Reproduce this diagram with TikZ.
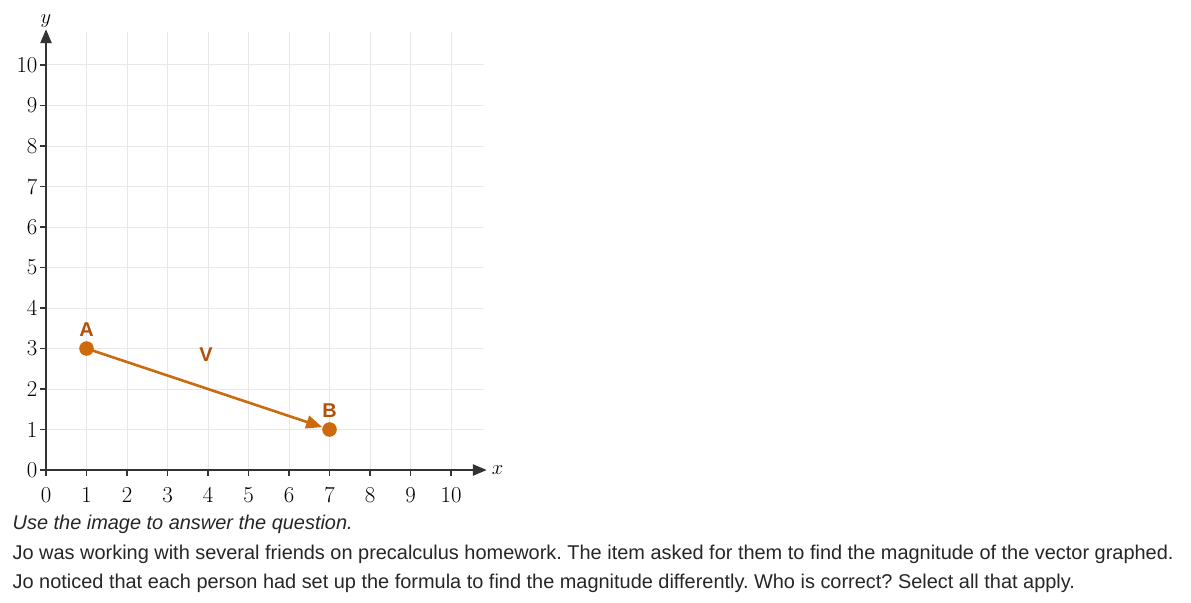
\documentclass[tikz,border=0pt]{standalone}
\usepackage{fontspec}
\newfontfamily\arialfont{Liberation Sans}
\usetikzlibrary{%
    arrows.meta,
    positioning
}
\frenchspacing
\definecolor{vecline}{HTML}{CF6A0C}
\definecolor{veclabel}{HTML}{B0500A}
\definecolor{gridgray}{HTML}{E8E8E8}
\tikzset{gridline/.style = {gridgray, line width=0.7pt}}
\tikzset{axisline/.style = {black!80, line width=0.9pt, -{Triangle[length=0.34cm, width=0.28cm]}}}
\tikzset{tickline/.style = {black!80, line width=0.8pt}}
\tikzset{ticklabel/.style = {font=\fontsize{16}{16}\selectfont, inner sep=1pt}}
\tikzset{pointdot/.style = {circle, fill=vecline, inner sep=0pt, minimum size=0.36cm}}
\tikzset{vecarrow/.style = {vecline, line width=1.8pt, -{Triangle[length=0.4cm, width=0.32cm]}}}
\tikzset{pointlabel/.style = {veclabel, font=\arialfont\bfseries\fontsize{14}{14}\selectfont}}
\tikzset{bodytext/.style = {anchor=base west, inner sep=0pt, text=black!85, font=\arialfont\fontsize{14}{14}\selectfont}}

\begin{document}
\begin{tikzpicture}
    \useasboundingbox (-1.136,-3.259) rectangle (28.27,11.605);

    % grid
    \foreach \i in {1,...,10}
        {
        \draw[gridline] (\i,0) -- (\i,10.81);
        \draw[gridline] (0,\i) -- (10.81,\i);
        }

    % axes
    \coordinate (O) at (0,0);
    \coordinate (xend) at (10.88,0);
    \coordinate (yend) at (0,10.88);
    \draw[axisline] (O) -- (xend);
    \draw[axisline] (O) -- (yend);
    \node (xname) [right=0.12cm of xend, font=\fontsize{14}{14}\selectfont, inner sep=0pt] {$x$};
    \node (yname) [above=0.05cm of yend, font=\fontsize{14}{14}\selectfont, inner sep=0pt] {$y$};

    % ticks and tick labels
    \foreach \i in {0,...,10}
        {
        \draw[tickline] (\i,0) -- (\i,-0.15);
        \draw[tickline] (0,\i) -- (-0.15,\i);
        \node[ticklabel] (xt\i) at (\i,-0.62) {\i};
        \node[ticklabel, anchor=east] (yt\i) at (-0.17,\i) {\i};
        }

    % vector
    \node[pointdot] (A) at (1,3) {};
    \node[pointdot] (B) at (7,1) {};
    \draw[vecarrow] (A.center) -- (B);
    \node[pointlabel] (labA) at (1,3.47) {A};
    \node[pointlabel] (labB) at (7,1.47) {B};
    \node[pointlabel] (labV) at (3.95,2.86) {V};

    % question text
    \node[bodytext, font=\arialfont\itshape\fontsize{14}{14}\selectfont] (line1) at (-0.83,-1.457) {Use the image to answer the question.};
    \node[bodytext] (line2) at (-0.83,-2.198) {Jo was working with several friends on precalculus homework. The item asked for them to find the magnitude of the vector graphed.};
    \node[bodytext] (line3) at (-0.83,-2.914) {Jo noticed that each person had set up the formula to find the magnitude differently. Who is correct? Select all that apply.};
\end{tikzpicture}
\end{document}
